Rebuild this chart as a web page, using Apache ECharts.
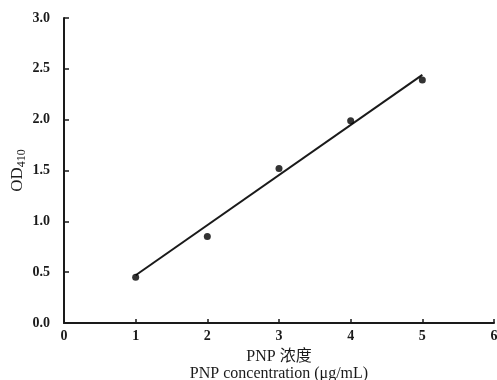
<!DOCTYPE html>
<html>
<head>
<meta charset="utf-8">
<script src="https://cdn.jsdelivr.net/npm/echarts@6/dist/echarts.min.js"></script>
<style>
html,body{margin:0;padding:0;background:#fff;}
#chart{width:497px;height:380px;}
</style>
</head>
<body>
<div id="chart"></div>
<script>
// PNP standard curve: concentration (μg/mL) vs absorbance at 410 nm
const concentrations = [1, 2, 3, 4, 5];
const od410 = [0.45, 0.85, 1.52, 1.99, 2.39];
// Linear fit drawn between the first and last standard
const fitX = [1, 5];
const fitY = [0.47, 2.44];
const xTicks = [0, 1, 2, 3, 4, 5, 6];
const yTicks = [0, 0.5, 1.0, 1.5, 2.0, 2.5, 3.0];

const serif = '"Liberation Serif", "Times New Roman", "Noto Sans CJK SC", serif';
const ink = '#1a1a1a';

const chart = echarts.init(document.getElementById('chart'));
chart.setOption({
  animation: false,
  backgroundColor: '#fff',
  grid: { left: 64, right: 3, top: 18, bottom: 57, containLabel: false, outerBoundsMode: 'none' },
  xAxis: {
    type: 'value',
    min: xTicks[0], max: xTicks[xTicks.length - 1], interval: 1,
    axisLine: { lineStyle: { color: ink, width: 2 } },
    axisTick: { inside: true, length: 4, lineStyle: { color: ink, width: 1.5 } },
    splitLine: { show: false },
    axisLabel: { color: ink, fontFamily: serif, fontSize: 14, fontWeight: 'bold', margin: 6 },
    name: 'PNP 浓度\nPNP concentration (μg/mL)',
    nameLocation: 'middle',
    nameGap: 25,
    nameMoveOverlap: false,
    nameTextStyle: { color: ink, fontFamily: serif, fontSize: 16, lineHeight: 17 }
  },
  yAxis: {
    type: 'value',
    min: yTicks[0], max: yTicks[yTicks.length - 1], interval: 0.5,
    axisLine: { show: true, lineStyle: { color: ink, width: 2 } },
    axisTick: { show: true, inside: true, length: 5, lineStyle: { color: ink, width: 1.5 } },
    splitLine: { show: false },
    axisLabel: {
      color: ink, fontFamily: serif, fontSize: 14, fontWeight: 'bold', margin: 14,
      formatter: v => v.toFixed(1)
    },
    name: '{m|OD}{s|410}',
    nameLocation: 'middle',
    nameGap: 36,
    nameMoveOverlap: false,
    nameTextStyle: {
      rich: {
        m: { color: ink, fontFamily: serif, fontSize: 17 },
        s: { color: ink, fontFamily: serif, fontSize: 12, padding: [9, 0, 0, 0] }
      }
    }
  },
  series: [
    {
      type: 'line',
      data: fitX.map((x, i) => [x, fitY[i]]),
      symbol: 'none',
      lineStyle: { color: ink, width: 2 },
      z: 2
    },
    {
      type: 'scatter',
      data: concentrations.map((x, i) => [x, od410[i]]),
      symbol: 'circle',
      symbolSize: 7,
      itemStyle: { color: '#000' },
      z: 3
    }
  ]
});
</script>
</body>
</html>
